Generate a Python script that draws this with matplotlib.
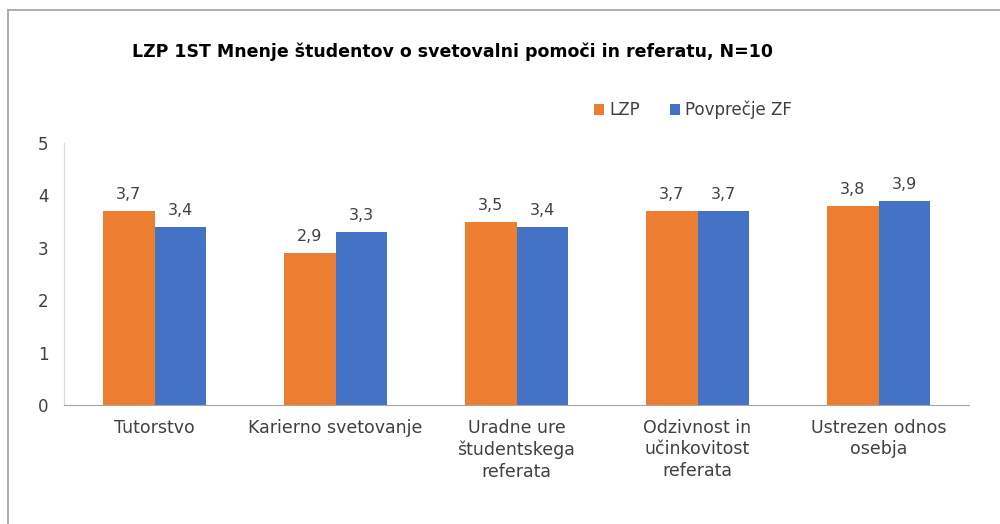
import matplotlib.pyplot as plt
import numpy as np
from matplotlib.lines import Line2D

plt.rcParams["font.family"] = ["DejaVu Sans"]

kategorije = ["Tutorstvo", "Karierno svetovanje", "Uradne ure\nštudentskega\nreferata",
              "Odzivnost in\nučinkovitost\nreferata", "Ustrezen odnos\nosebja"]
lzp = [3.7, 2.9, 3.5, 3.7, 3.8]
povprecje_zf = [3.4, 3.3, 3.4, 3.7, 3.9]
serije = ["LZP", "Povprečje ZF"]
barve = ["#ED7D31", "#4472C4"]

fig = plt.figure(figsize=(10, 5.24), dpi=100)
ax = fig.add_axes([0.064, 0.227, 0.905, 0.5])

x = np.arange(len(kategorije))
w = 0.283
b1 = ax.bar(x - w/2, lzp, w, color=barve[0], label=serije[0])
b2 = ax.bar(x + w/2, povprecje_zf, w, color=barve[1], label=serije[1])

for bars in (b1, b2):
    for b in bars:
        ax.text(b.get_x() + b.get_width()/2, b.get_height() + 0.17,
                str(b.get_height()).replace(".", ","), ha="center", va="bottom",
                fontsize=11.5, color="#404040")

ax.set_xlim(-0.5, len(kategorije) - 0.5)
ax.set_ylim(0, 5)
ax.set_yticks(range(6))
ax.set_xticks(x)
ax.set_xticklabels(kategorije, fontsize=12.5, color="#404040", linespacing=1.25)
ax.tick_params(axis="y", labelsize=12, labelcolor="#404040", length=0, pad=11)
ax.tick_params(axis="x", length=0, pad=10)
for s in ["top", "right"]:
    ax.spines[s].set_visible(False)
ax.spines["left"].set_color("#D9D9D9")
ax.spines["bottom"].set_color("#A6A6A6")

fig.text(0.452, 1 - 52/524, "LZP 1ST Mnenje študentov o svetovalni pomoči in referatu, N=10",
         ha="center", va="center", fontsize=12.5, fontweight="bold", color="black")

ax.legend(loc="center", bbox_to_anchor=(0.693, 1 - 110/524), bbox_transform=fig.transFigure,
          ncol=2, frameon=False, fontsize=12, handlelength=0.6, handleheight=0.6,
          handletextpad=0.3, columnspacing=1.8, labelcolor="#404040")

# okvir slike
fig.add_artist(Line2D([0.008, 0.008], [0, 1 - 10/524], color="#A0A0A0", lw=1.2))
fig.add_artist(Line2D([0.008, 1], [1 - 10/524, 1 - 10/524], color="#A0A0A0", lw=1.2))

fig.savefig("out.png", dpi=100)
